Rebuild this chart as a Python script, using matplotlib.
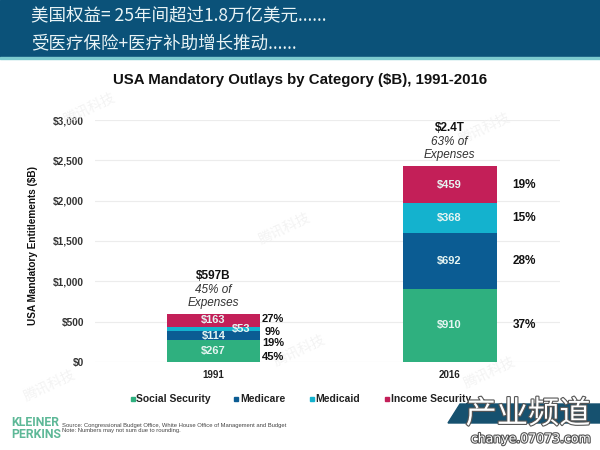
import matplotlib
matplotlib.use("Agg")
import matplotlib.pyplot as plt
import matplotlib.patheffects as pe
from matplotlib.patches import Rectangle, Polygon

plt.rcParams['font.family'] = ['Liberation Sans', 'Noto Sans CJK SC', 'DejaVu Sans']
CJK = ['Noto Sans CJK SC', 'DejaVu Sans']

years = ['1991', '2016']
categories = ['Social Security', 'Medicare', 'Medicaid', 'Income Security']
colors = ['#2FB07F', '#0B5C93', '#14B2CE', '#C31F58']
social = [267, 910]
medicare = [114, 692]
medicaid = [53, 368]
income = [163, 459]
series = [social, medicare, medicaid, income]
pct_1991 = ['45%', '19%', '9%', '27%']
pct_1991_y = [62, 236, 372, 533]
pct_2016 = ['37%', '28%', '15%', '19%']
totals = ['$597B', '$2.4T']
shares = ['45% of\nExpenses', '63% of\nExpenses']
yticks = [0, 500, 1000, 1500, 2000, 2500, 3000]
header = ['美国权益= 25年间超过1.8万亿美元......', '受医疗保险+医疗补助增长推动......']

W, H = 600, 450
fig = plt.figure(figsize=(6, 4.5), dpi=100, facecolor='white')
ax = fig.add_axes([95/W, 1-362/H, 465/W, 242/H])
ax.set_ylim(0, 3000)
ax.set_xlim(-0.502, 1.468)
ax.set_facecolor('none')
x = [0, 1]
width = 0.398
bottoms = [0, 0]
for vals, c, name in zip(series, colors, categories):
    ax.bar(x, vals, width, bottom=bottoms, color=c, label=name, zorder=3)
    for i in x:
        cx = x[i]
        if i == 0 and name == 'Medicaid':
            cx = 0.117
        ax.text(cx, bottoms[i] + vals[i]/2, f'${vals[i]}', ha='center', va='center',
                color='#E6F5F2', fontsize=8, fontweight='bold', zorder=4)
    bottoms = [bottoms[i] + vals[i] for i in x]

for y, t in zip(pct_1991_y, pct_1991):
    ax.text(0.252, y, t, ha='center', va='center', fontsize=8, fontweight='bold', color='#111111')
b = 0
for i, t in enumerate(pct_2016):
    v = series[i][1]
    ax.text(1.316, b + v/2, t, ha='center', va='center', fontsize=8.5, fontweight='bold', color='#111111')
    b += v

for i, top in zip(x, [597, 2431]):
    ax.text(i, top + 400, totals[i], ha='center', va='bottom', fontsize=8.5, fontweight='bold', color='#111111')
    ax.text(i, top + 60, shares[i], ha='center', va='bottom', fontsize=8.5, style='italic',
            color='#333333', linespacing=1.1)

ax.set_yticks(yticks)
ax.set_yticklabels([f'${v:,}' for v in yticks], fontsize=7.3, fontweight='bold', color='#333333')
ax.set_xticks(x)
ax.set_xticklabels(years, fontsize=7, fontweight='bold', color='#222222')
ax.tick_params(length=0)
ax.tick_params(axis='y', pad=8)
ax.tick_params(axis='x', pad=6)
ax.grid(axis='y', color='#ECECEC', lw=0.8, zorder=0)
ax.set_axisbelow(True)
for s in ax.spines.values():
    s.set_visible(False)
ax.set_ylabel('USA Mandatory Entitlements ($B)', fontsize=7.2, fontweight='bold', color='#111111',
              labelpad=11, y=0.483)

# faint background watermarks
for wx, wy in [(90, 108), (285, 228), (485, 128), (50, 385), (490, 372), (300, 350)]:
    ax.text(wx/W, 1-wy/H, '腾讯科技', transform=fig.transFigure, fontsize=10, rotation=25,
            ha='center', va='center', color='#F3F3F3', family=CJK, zorder=1, clip_on=False)

# header band
fig.add_artist(Rectangle((0, 1-57/H), 1, 57/H, transform=fig.transFigure, color='#0B5279', zorder=5))
fig.add_artist(Rectangle((0, 1-59/H), 1, 2.5/H, transform=fig.transFigure, color='#7CCBCF', zorder=5))
fig.text(31/W, 1-15/H, header[0], fontsize=12.6, color='#E8F3F5', va='center', zorder=6, family=CJK)
fig.text(31/W, 1-43/H, header[1], fontsize=12.6, color='#E8F3F5', va='center', zorder=6, family=CJK)

fig.text(300.5/W, 1-80/H, 'USA Mandatory Outlays by Category ($B), 1991-2016', fontsize=10.8, fontweight='bold',
         ha='center', va='center', color='#111111')

# legend
handles, labels = ax.get_legend_handles_labels()
for (hx, tx), h, l in zip([(131, 136), (234, 240), (310, 315), (385, 391)], handles, labels):
    fig.add_artist(Rectangle((hx/W, 1-(398.5+2)/H), 4/W, 4/H, transform=fig.transFigure, color=h[0].get_facecolor()))
    fig.text(tx/W, 1-398.5/H, l, fontsize=7.5, fontweight='bold', va='center', color='#222222')

# footer
for ty, t in [(422, 'KLEINER'), (435, 'PERKINS')]:
    fig.text(11/W, 1-ty/H, t, fontsize=8.8, color='#5DB897', va='center', fontweight='bold',
             family=['Liberation Sans Narrow', 'Roboto'])
fig.text(62/W, 1-428/H, 'Source: Congressional Budget Office, White House Office of Management and Budget\nNote: Numbers may not sum due to rounding.',
         fontsize=4.2, va='center', color='#444444', linespacing=1.05)

# corner watermark
fig.add_artist(Polygon([(448/W, 1-423/H), (460/W, 1-404/H), (600/W, 1-404/H), (600/W, 1-423/H)],
                       closed=True, transform=fig.transFigure, color='#16516F', zorder=5))
outline = [pe.withStroke(linewidth=1.6, foreground='#555555')]
fig.text(528/W, 1-414/H, '产业频道', fontsize=22.5, ha='center', va='center', color='white', family=CJK,
         zorder=6, path_effects=outline)
fig.text(531/W, 1-439/H, 'chanye.07073.com', fontsize=9, ha='center', va='center', color='white',
         family='DejaVu Sans', zorder=6, path_effects=outline)

fig.savefig('out.png', dpi=100)
